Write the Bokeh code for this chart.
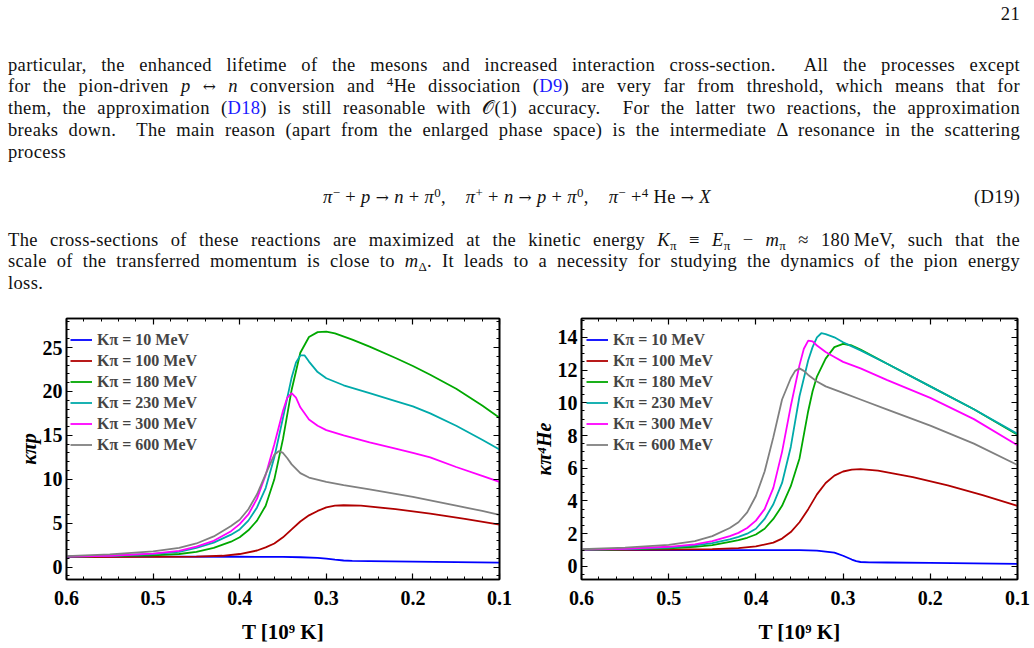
from bokeh.plotting import figure
from bokeh.models import (Range1d, FixedTicker, LinearAxis, Legend, LegendItem, Div,
                          CustomJSTickFormatter)
from bokeh.layouts import column, row
from bokeh.embed import file_html
from bokeh.resources import INLINE

# ---------------- data: left panel (kappa_pi p) ----------------
pp10_T = [0.6, 0.5, 0.4, 0.35, 0.33, 0.31, 0.30, 0.29, 0.28, 0.27, 0.25, 0.2, 0.15, 0.1]
pp10_k = [1.2, 1.2, 1.19, 1.17, 1.13, 1.05, 0.97, 0.86, 0.76, 0.72, 0.7, 0.64, 0.58, 0.52]

pp100_T = [0.6, 0.5, 0.45, 0.42, 0.40, 0.38, 0.37, 0.36, 0.35, 0.34, 0.33, 0.32, 0.31, 0.30,
           0.29, 0.28, 0.26, 0.22, 0.18, 0.14, 0.1]
pp100_k = [1.15, 1.17, 1.2, 1.3, 1.5, 1.9, 2.25, 2.7, 3.4, 4.3, 5.2, 5.9, 6.4, 6.8,
           7.0, 7.05, 7.0, 6.6, 6.1, 5.5, 4.85]

pp180_T = [0.6, 0.55, 0.5, 0.47, 0.45, 0.43, 0.41, 0.40, 0.39, 0.38, 0.37, 0.36, 0.35, 0.34,
           0.33, 0.32, 0.31, 0.30, 0.29, 0.27, 0.25, 0.22, 0.2, 0.18, 0.15, 0.12, 0.1]
pp180_k = [1.2, 1.25, 1.35, 1.5, 1.75, 2.2, 2.9, 3.4, 4.2, 5.3, 7.0, 10.0, 14.6, 20.2,
           24.4, 26.2, 26.75, 26.8, 26.6, 25.9, 25.1, 23.8, 22.9, 21.9, 20.3, 18.4, 17.0]

pp230_T = [0.6, 0.55, 0.5, 0.47, 0.45, 0.43, 0.41, 0.40, 0.39, 0.38, 0.37, 0.36, 0.35, 0.34,
           0.335, 0.33, 0.325, 0.32, 0.31, 0.30, 0.28, 0.25, 0.22, 0.2, 0.18, 0.15, 0.12, 0.1]
pp230_k = [1.2, 1.3, 1.5, 1.75, 2.2, 2.8, 3.7, 4.3, 5.3, 6.8, 9.0, 12.5, 17.0, 21.6,
           23.3, 24.1, 24.1, 23.4, 22.2, 21.5, 20.7, 19.8, 18.9, 18.3, 17.5, 16.1, 14.5, 13.4]

pp300_T = [0.6, 0.55, 0.5, 0.47, 0.45, 0.43, 0.41, 0.40, 0.39, 0.38, 0.37, 0.36, 0.35, 0.345,
           0.34, 0.335, 0.33, 0.32, 0.31, 0.30, 0.28, 0.25, 0.22, 0.2, 0.18, 0.15, 0.12, 0.1]
pp300_k = [1.2, 1.3, 1.55, 1.85, 2.35, 3.0, 4.1, 4.9, 6.0, 7.8, 10.5, 14.0, 17.8, 19.3,
           19.8, 19.3, 18.2, 16.8, 16.1, 15.6, 15.0, 14.2, 13.5, 13.0, 12.5, 11.4, 10.4, 9.7]

pp600_T = [0.6, 0.55, 0.5, 0.47, 0.45, 0.43, 0.41, 0.40, 0.39, 0.38, 0.37, 0.36, 0.355, 0.35,
           0.345, 0.34, 0.33, 0.32, 0.30, 0.28, 0.25, 0.2, 0.15, 0.12, 0.1]
pp600_k = [1.25, 1.45, 1.8, 2.2, 2.7, 3.5, 4.7, 5.4, 6.6, 8.3, 10.6, 12.8, 13.2, 13.0,
           12.4, 11.7, 10.7, 10.2, 9.7, 9.35, 8.85, 8.0, 7.0, 6.4, 5.95]

# ---------------- data: right panel (kappa_pi 4He) ----------------
he10_T = [0.6, 0.4, 0.35, 0.33, 0.31, 0.30, 0.29, 0.285, 0.28, 0.27, 0.25, 0.2, 0.15, 0.1]
he10_k = [1.0, 1.0, 0.99, 0.96, 0.84, 0.65, 0.42, 0.32, 0.27, 0.25, 0.24, 0.21, 0.18, 0.15]

he100_T = [0.6, 0.5, 0.45, 0.42, 0.40, 0.38, 0.37, 0.36, 0.35, 0.34, 0.33, 0.32, 0.31, 0.30,
           0.29, 0.28, 0.26, 0.22, 0.18, 0.14, 0.1]
he100_k = [1.0, 1.02, 1.06, 1.12, 1.22, 1.45, 1.7, 2.1, 2.7, 3.5, 4.4, 5.1, 5.55, 5.8,
           5.92, 5.95, 5.85, 5.45, 4.95, 4.35, 3.7]

he180_T = [0.6, 0.55, 0.5, 0.47, 0.45, 0.43, 0.42, 0.41, 0.40, 0.39, 0.38, 0.37, 0.36, 0.35,
           0.34, 0.335, 0.33, 0.32, 0.31, 0.30, 0.29, 0.28, 0.25, 0.2, 0.15, 0.1]
he180_k = [1.01, 1.04, 1.1, 1.2, 1.3, 1.5, 1.6, 1.75, 1.95, 2.3, 2.9, 3.7, 4.9, 6.6,
           9.5, 10.7, 11.6, 12.7, 13.4, 13.6, 13.5, 13.25, 12.4, 11.0, 9.6, 8.05]

he230_T = [0.6, 0.55, 0.5, 0.47, 0.45, 0.43, 0.42, 0.41, 0.40, 0.39, 0.38, 0.37, 0.36, 0.35,
           0.34, 0.335, 0.33, 0.325, 0.32, 0.31, 0.30, 0.29, 0.28, 0.25, 0.2, 0.15, 0.1]
he230_k = [1.02, 1.06, 1.15, 1.28, 1.42, 1.65, 1.8, 2.0, 2.3, 2.9, 3.8, 5.1, 7.3, 10.4,
           12.6, 13.4, 14.0, 14.25, 14.2, 14.0, 13.7, 13.45, 13.2, 12.4, 11.0, 9.6, 8.1]

he300_T = [0.6, 0.55, 0.5, 0.47, 0.45, 0.43, 0.42, 0.41, 0.40, 0.39, 0.38, 0.37, 0.36, 0.35,
           0.345, 0.34, 0.335, 0.33, 0.32, 0.31, 0.30, 0.28, 0.25, 0.2, 0.15, 0.1]
he300_k = [1.03, 1.08, 1.2, 1.35, 1.55, 1.85, 2.05, 2.35, 2.8, 3.5, 4.8, 7.0, 9.8, 12.3,
           13.3, 13.8, 13.75, 13.5, 13.1, 12.8, 12.5, 12.1, 11.4, 10.3, 9.0, 7.4]

he600_T = [0.6, 0.55, 0.5, 0.47, 0.45, 0.43, 0.42, 0.41, 0.40, 0.39, 0.38, 0.37, 0.36, 0.355,
           0.35, 0.345, 0.34, 0.33, 0.32, 0.30, 0.28, 0.25, 0.2, 0.15, 0.1]
he600_k = [1.05, 1.15, 1.32, 1.55, 1.85, 2.35, 2.7, 3.3, 4.3, 5.8, 7.9, 10.2, 11.5, 11.95,
           12.1, 11.95, 11.7, 11.3, 11.0, 10.6, 10.2, 9.6, 8.6, 7.5, 6.2]

series_labels = ["Kπ = 10 MeV", "Kπ = 100 MeV", "Kπ = 180 MeV",
                 "Kπ = 230 MeV", "Kπ = 300 MeV", "Kπ = 600 MeV"]
series_colors = ["#0000ff", "#b00000", "#00a800", "#00aaaa", "#ff00ff", "#808080"]

x_major = [0.1, 0.2, 0.3, 0.4, 0.5, 0.6]
x_minor = [0.1 + 0.02 * i for i in range(26)]
yl_major = [0, 5, 10, 15, 20, 25]
yl_minor = list(range(-1, 29))
yr_major = [0, 2, 4, 6, 8, 10, 12, 14]
yr_minor = [-0.5 + 0.5 * i for i in range(32)]

LEFT_SERIES = [(pp10_T, pp10_k), (pp100_T, pp100_k), (pp180_T, pp180_k),
               (pp230_T, pp230_k), (pp300_T, pp300_k), (pp600_T, pp600_k)]
RIGHT_SERIES = [(he10_T, he10_k), (he100_T, he100_k), (he180_T, he180_k),
                (he230_T, he230_k), (he300_T, he300_k), (he600_T, he600_k)]

FONT = "Liberation Serif"


def style_axis(ax, major, minor, show_labels):
    ax.ticker = FixedTicker(ticks=major, minor_ticks=minor)
    ax.major_tick_in = 6
    ax.major_tick_out = 0
    ax.minor_tick_in = 3
    ax.minor_tick_out = 0
    ax.major_tick_line_color = "black"
    ax.minor_tick_line_color = "black"
    ax.axis_line_color = "black"
    ax.axis_line_width = 1.6
    ax.major_tick_line_width = 1.2
    ax.minor_tick_line_width = 1
    if show_labels:
        ax.major_label_text_font = FONT
        ax.major_label_text_font_style = "bold"
        ax.major_label_text_font_size = "20px"
        ax.major_label_text_color = "black"
        ax.axis_label_text_font = FONT
        ax.axis_label_text_font_style = "bold"
        ax.axis_label_text_font_size = "21px"
        ax.axis_label_text_color = "black"
    else:
        ax.formatter = CustomJSTickFormatter(code="return ''")
        ax.major_label_standoff = 0


def make_panel(series, y_range, ymaj, ymin, ylabel, ml, mr, legx):
    p = figure(width=517, height=348, output_backend="svg", toolbar_location=None,
               x_range=Range1d(0.6, 0.1), y_range=y_range,
               min_border_left=ml, min_border_right=mr,
               min_border_top=18, min_border_bottom=69,
               x_axis_label="T [10⁹ K]", y_axis_label=ylabel)
    p.grid.visible = False
    p.outline_line_color = "black"
    p.outline_line_width = 1.6
    p.background_fill_color = "white"
    p.border_fill_color = "white"
    style_axis(p.xaxis[0], x_major, x_minor, True)
    style_axis(p.yaxis[0], ymaj, ymin, True)
    p.xaxis[0].major_label_standoff = 11
    p.xaxis[0].axis_label_standoff = 12
    p.yaxis[0].major_label_standoff = 4
    p.yaxis[0].axis_label_standoff = 0
    p.yaxis[0].axis_label_text_font_size = "20px"
    p.yaxis[0].axis_label_text_font_style = "bold italic"
    top = LinearAxis()
    style_axis(top, x_major, x_minor, False)
    p.add_layout(top, "above")
    right = LinearAxis()
    style_axis(right, ymaj, ymin, False)
    p.add_layout(right, "right")

    items = []
    for (T, k), lab, col in zip(series, series_labels, series_colors):
        r = p.line(T, k, line_color=col, line_width=1.8)
        items.append(LegendItem(label=lab, renderers=[r]))
    leg = Legend(items=items, location=(legx, 124), margin=0, padding=3, spacing=0,
                 label_height=21, glyph_height=21, glyph_width=22, label_standoff=5,
                 label_text_font=FONT, label_text_font_style="bold",
                 label_text_font_size="16px", border_line_color=None,
                 background_fill_alpha=0)
    p.add_layout(leg)
    return p


p1 = make_panel(LEFT_SERIES, Range1d(-1.4, 28.3), yl_major, yl_minor, "κπp", 66, 18, 4)
p2 = make_panel(RIGHT_SERIES, Range1d(-0.8, 15.15), yr_major, yr_minor, "κπ⁴He", 64, 17, 5)

SUP = 'style="font-size:0.7em;vertical-align:0.5em;line-height:0"'
SUB = 'style="font-size:0.7em;vertical-align:-0.3em;line-height:0"'
LINK = 'style="color:#1a1aff"'
AR = 'style="font-family:\'DejaVu Serif\';font-size:0.85em"'
LN = ('position:absolute;left:8px;width:1012px;height:22px;line-height:22px;'
      'white-space:normal;')
J = 'text-align:justify;text-align-last:justify;'


def line(top, content, just=True):
    return f'<div style="{LN}top:{top}px;{J if just else ""}">{content}</div>'


html = (
    f'<div style="position:relative;width:1034px;height:300px;font-family:\'{FONT}\';'
    f'font-size:18.5px;letter-spacing:0.35px;color:#111;background:white;">'
    '<div style="position:absolute;right:14px;top:3px;line-height:22px;">21</div>'
    + line(54, 'particular, the enhanced lifetime of the mesons and increased interaction '
               'cross-section.&nbsp; All the processes except')
    + line(75, f'for the pion-driven <i>p</i> <span {AR}>↔</span> <i>n</i> conversion and <span {SUP}>4</span>He '
               f'dissociation (<span {LINK}>D9</span>) are very far from threshold, which means that for')
    + line(97, f'them, the approximation (<span {LINK}>D18</span>) is still reasonable with '
               '𝒪(1) accuracy.&nbsp; For the latter two reactions, the approximation')
    + line(119, 'breaks down.&nbsp; The main reason (apart from the enlarged phase space) is the '
                'intermediate Δ resonance in the scattering')
    + line(141, 'process', just=False)
    + f'<div style="position:absolute;left:0;width:1034px;top:186px;line-height:22px;text-align:center;">'
      f'<i>π</i><span {SUP}>−</span> + <i>p</i> <span {AR}>→</span> <i>n</i> + <i>π</i><span {SUP}>0</span>,'
      f'&nbsp;&nbsp;&nbsp; <i>π</i><span {SUP}>+</span> + <i>n</i> <span {AR}>→</span> <i>p</i> + <i>π</i><span {SUP}>0</span>,'
      f'&nbsp;&nbsp;&nbsp; <i>π</i><span {SUP}>−</span> +<span {SUP}>4</span> He <span {AR}>→</span> <i>X</i></div>'
    + '<div style="position:absolute;right:14px;top:186px;line-height:22px;">(D19)</div>'
    + line(229, f'The cross-sections of these reactions are maximized at the kinetic energy '
                f'<i>K</i><span {SUB}>π</span> ≡ <i>E</i><span {SUB}>π</span> − <i>m</i><span {SUB}>π</span>'
                ' ≈ 180&#8201;MeV, such that the')
    + line(250, f'scale of the transferred momentum is close to <i>m</i><span {SUB}>Δ</span>. It leads '
                'to a necessity for studying the dynamics of the pion energy')
    + line(272, 'loss.', just=False)
    + '</div>'
)

div = Div(text=html, width=1034, height=300, margin=0)
p1.margin = 0
p2.margin = 0
layout = column(div, row(p1, p2, spacing=0), spacing=0)

open("out.html", "w").write(file_html(layout, INLINE))
